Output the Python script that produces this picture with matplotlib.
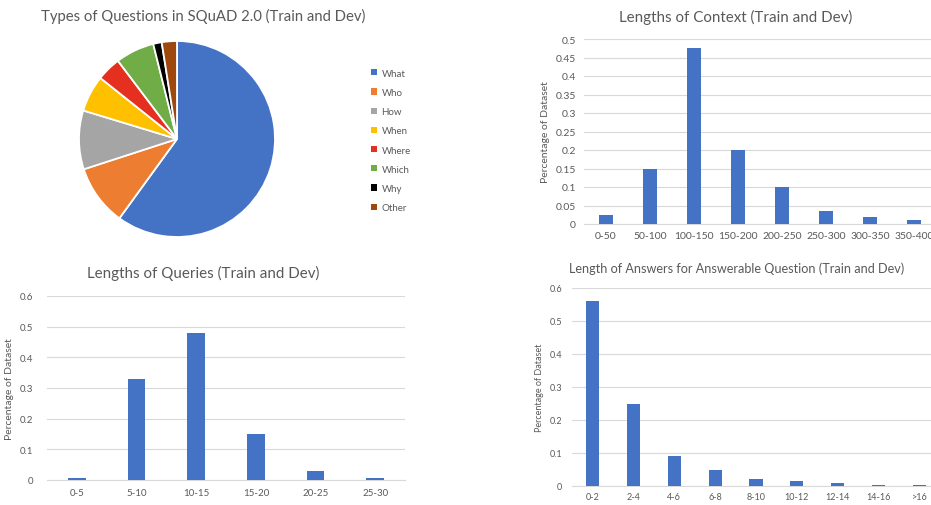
import matplotlib
matplotlib.use("Agg")
import matplotlib.pyplot as plt
from matplotlib.patches import Patch
from matplotlib.ticker import MultipleLocator, FormatStrFormatter

plt.rcParams['font.family'] = ['Lato', 'DejaVu Sans']

# question types
q_types = ['What', 'Who', 'How', 'When', 'Where', 'Which', 'Why', 'Other']
q_share = [60.0, 10.0, 9.7, 6.0, 4.0, 6.4, 1.4, 2.5]
q_colors = ['#4472C4', '#ED7D31', '#A5A5A5', '#FFC000', '#E5301F', '#70AD47', '#000000', '#9E480E']

# context lengths
ctx_bins = ['0-50', '50-100', '100-150', '150-200', '200-250', '250-300', '300-350', '350-400']
ctx_share = [0.025, 0.15, 0.475, 0.2, 0.1, 0.035, 0.02, 0.01]

# query lengths
qry_bins = ['0-5', '5-10', '10-15', '15-20', '20-25', '25-30']
qry_share = [0.005, 0.33, 0.48, 0.15, 0.03, 0.005]

# answer lengths
ans_bins = ['0-2', '2-4', '4-6', '6-8', '8-10', '10-12', '12-14', '14-16', '>16']
ans_share = [0.56, 0.25, 0.09, 0.05, 0.022, 0.014, 0.008, 0.004, 0.004]

W, H = 931, 506
TXT = '#595959'
GRID = '#D9D9D9'
BAR = '#4472C4'

fig = plt.figure(figsize=(W / 100, H / 100), dpi=100)


def box(left, right, top, bottom):
    return [left / W, 1 - bottom / H, (right - left) / W, (bottom - top) / H]


def title(x, y, s, size):
    fig.text(x / W, 1 - y / H, s, ha='center', va='center', fontsize=size, color=TXT)


def bar_panel(rect, cats, vals, ymax, step, tick_fs, ylab_fs, ypad, xpad, width=0.3):
    ax = fig.add_axes(rect)
    x = range(len(cats))
    ax.bar(x, vals, width=width, color=BAR, zorder=3)
    ax.set_xlim(-0.5, len(cats) - 0.5)
    ax.set_ylim(0, ymax)
    ax.yaxis.set_major_locator(MultipleLocator(step))
    ax.yaxis.set_major_formatter(FormatStrFormatter('%g'))
    ax.set_xticks(list(x))
    ax.set_xticklabels(cats)
    ax.grid(axis='y', color=GRID, linewidth=0.8, zorder=0)
    for s in ['top', 'right', 'left']:
        ax.spines[s].set_visible(False)
    ax.spines['bottom'].set_color(GRID)
    ax.spines['bottom'].set_linewidth(0.8)
    ax.tick_params(axis='both', length=0, colors=TXT, labelsize=tick_fs)
    ax.tick_params(axis='y', pad=ypad)
    ax.tick_params(axis='x', pad=xpad)
    ax.set_ylabel('Percentage of Dataset', fontsize=ylab_fs, color=TXT, labelpad=4)
    return ax


# pie of question types
pie_ax = fig.add_axes(box(79, 275, 42, 238))
pie_ax.pie(q_share, colors=q_colors, startangle=90, counterclock=False,
           wedgeprops=dict(edgecolor='white', linewidth=1.3))
pie_ax.set_xlim(-1, 1)
pie_ax.set_ylim(-1, 1)
handles = [Patch(facecolor=c, edgecolor='none') for c in q_colors]
fig.legend(handles, q_types, loc='upper left', bbox_to_anchor=(362 / W, 1 - 61 / H),
           frameon=False, fontsize=7, labelcolor=TXT, handlelength=0.6, handleheight=0.6,
           handletextpad=0.5, labelspacing=1.05)
title(203, 16, 'Types of Questions in SQuAD 2.0 (Train and Dev)', 10.7)

bar_panel(box(584, 936, 40, 225), ctx_bins, ctx_share, 0.5, 0.05, 7.5, 7.5, 6, 5)
title(736, 17, 'Lengths of Context (Train and Dev)', 10.9)

bar_panel(box(47, 405, 297, 481), qry_bins, qry_share, 0.6, 0.1, 7, 7.5, 10, 6)
title(203, 273, 'Lengths of Queries (Train and Dev)', 10.9)

bar_panel(box(572, 940, 289, 487), ans_bins, ans_share, 0.6, 0.1, 6.5, 6.5, 7, 4, width=0.32)
title(737, 269, 'Length of Answers for Answerable Question (Train and Dev)', 9.1)

fig.savefig('out.png', dpi=100)
